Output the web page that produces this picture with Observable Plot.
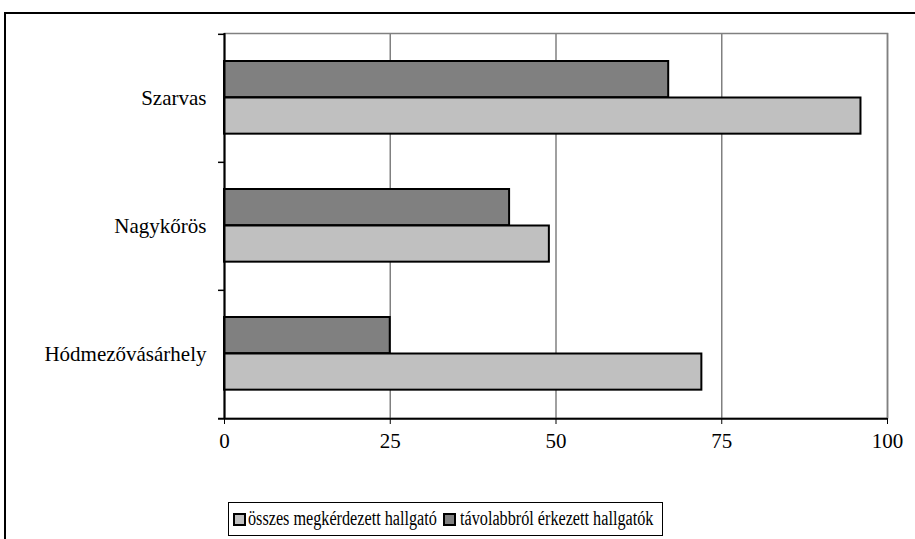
<!DOCTYPE html>
<html><head><meta charset="utf-8">
<script src="https://cdn.jsdelivr.net/npm/d3@7"></script>
<script src="https://cdn.jsdelivr.net/npm/@observablehq/plot@0.6"></script>
<style>
body{margin:0;background:#fff;font-family:'Liberation Serif',serif;}
#wrap{position:relative;width:915px;height:539px;overflow:hidden;background:#fff;}
#frame{position:absolute;left:4px;top:12px;width:1000px;height:1000px;border-left:2px solid #000;border-top:2px solid #000;box-sizing:border-box;}
#chart{position:absolute;left:0;top:0;}
#legend{position:absolute;left:228px;top:502px;width:435px;height:34px;border:1.5px solid #000;box-sizing:border-box;color:#000;}
.sw{position:absolute;top:10px;width:9px;height:9px;border:2px solid #000;}
.lt{position:absolute;top:3px;font-size:20.5px;line-height:24px;white-space:nowrap;transform:scaleX(0.79);transform-origin:left center;}
</style></head>
<body>
<div id="wrap"><div id="frame"></div><div id="chart"></div><div id="legend"></div></div>
<script>
const categories = ["Szarvas", "Nagykőrös", "Hódmezővásárhely"];
const seriesNames = ["összes megkérdezett hallgató", "távolabbról érkezett hallgatók"];
const osszes = [96, 49, 72];
const tavolabbrol = [67, 43, 25];
const xTicks = [0, 25, 50, 75, 100];
const colors = ["#c0c0c0", "#808080"];

const W = 915, H = 500, mT = 33, mB = 82, mL = 224, mR = 28;
const bw = (H - mT - mB) / categories.length;

const lightData = categories.map((c, i) => ({cat: c, v: osszes[i]}));
const darkData = categories.map((c, i) => ({cat: c, v: tavolabbrol[i]}));

const chart = Plot.plot({
  width: W, height: H,
  marginTop: mT, marginBottom: mB, marginLeft: mL, marginRight: mR,
  style: {fontFamily: "Liberation Serif", fontSize: "21px", color: "#000", background: "transparent"},
  x: {domain: [0, 100]},
  y: {domain: categories, paddingInner: 0, paddingOuter: 0},
  marks: [
    Plot.frame({stroke: "#808080", strokeWidth: 1.5}),
    Plot.gridX(xTicks, {stroke: "#808080", strokeOpacity: 1, strokeWidth: 1.5}),
    Plot.barX(darkData, {x: "v", y: "cat", fill: colors[1], stroke: "#000", strokeWidth: 2, insetTop: 27, insetBottom: bw - 63.5}),
    Plot.barX(lightData, {x: "v", y: "cat", fill: colors[0], stroke: "#000", strokeWidth: 2, insetTop: 63.5, insetBottom: bw - 100}),
    Plot.ruleX([0], {stroke: "#000", strokeWidth: 2}),
    Plot.ruleY(categories, {y: d => d, dy: -bw / 2, x1: -0.9, x2: 0, stroke: "#000", strokeWidth: 1.5}),
    Plot.ruleY(categories.slice(-1), {y: d => d, dy: bw / 2, x1: -0.9, x2: 100, stroke: "#000", strokeWidth: 2}),
    Plot.axisY({tickSize: 0, tickPadding: 18, label: null, fontSize: 21}),
    Plot.axisX(xTicks, {tickSize: 6, tickPadding: 9, label: null, fontSize: 21, stroke: "#000"})
  ]
});
document.getElementById("chart").appendChild(chart);

// legend: swatch / text offsets inside the legend box
const leg = document.getElementById("legend");
const swLeft = [4, 214], txtLeft = [19, 231];
seriesNames.forEach((n, i) => {
  const sw = document.createElement("span");
  sw.className = "sw";
  sw.style.left = swLeft[i] + "px";
  sw.style.background = colors[i];
  leg.appendChild(sw);
  const t = document.createElement("span");
  t.className = "lt";
  t.style.left = txtLeft[i] + "px";
  t.textContent = n;
  leg.appendChild(t);
});
</script>
</body></html>
